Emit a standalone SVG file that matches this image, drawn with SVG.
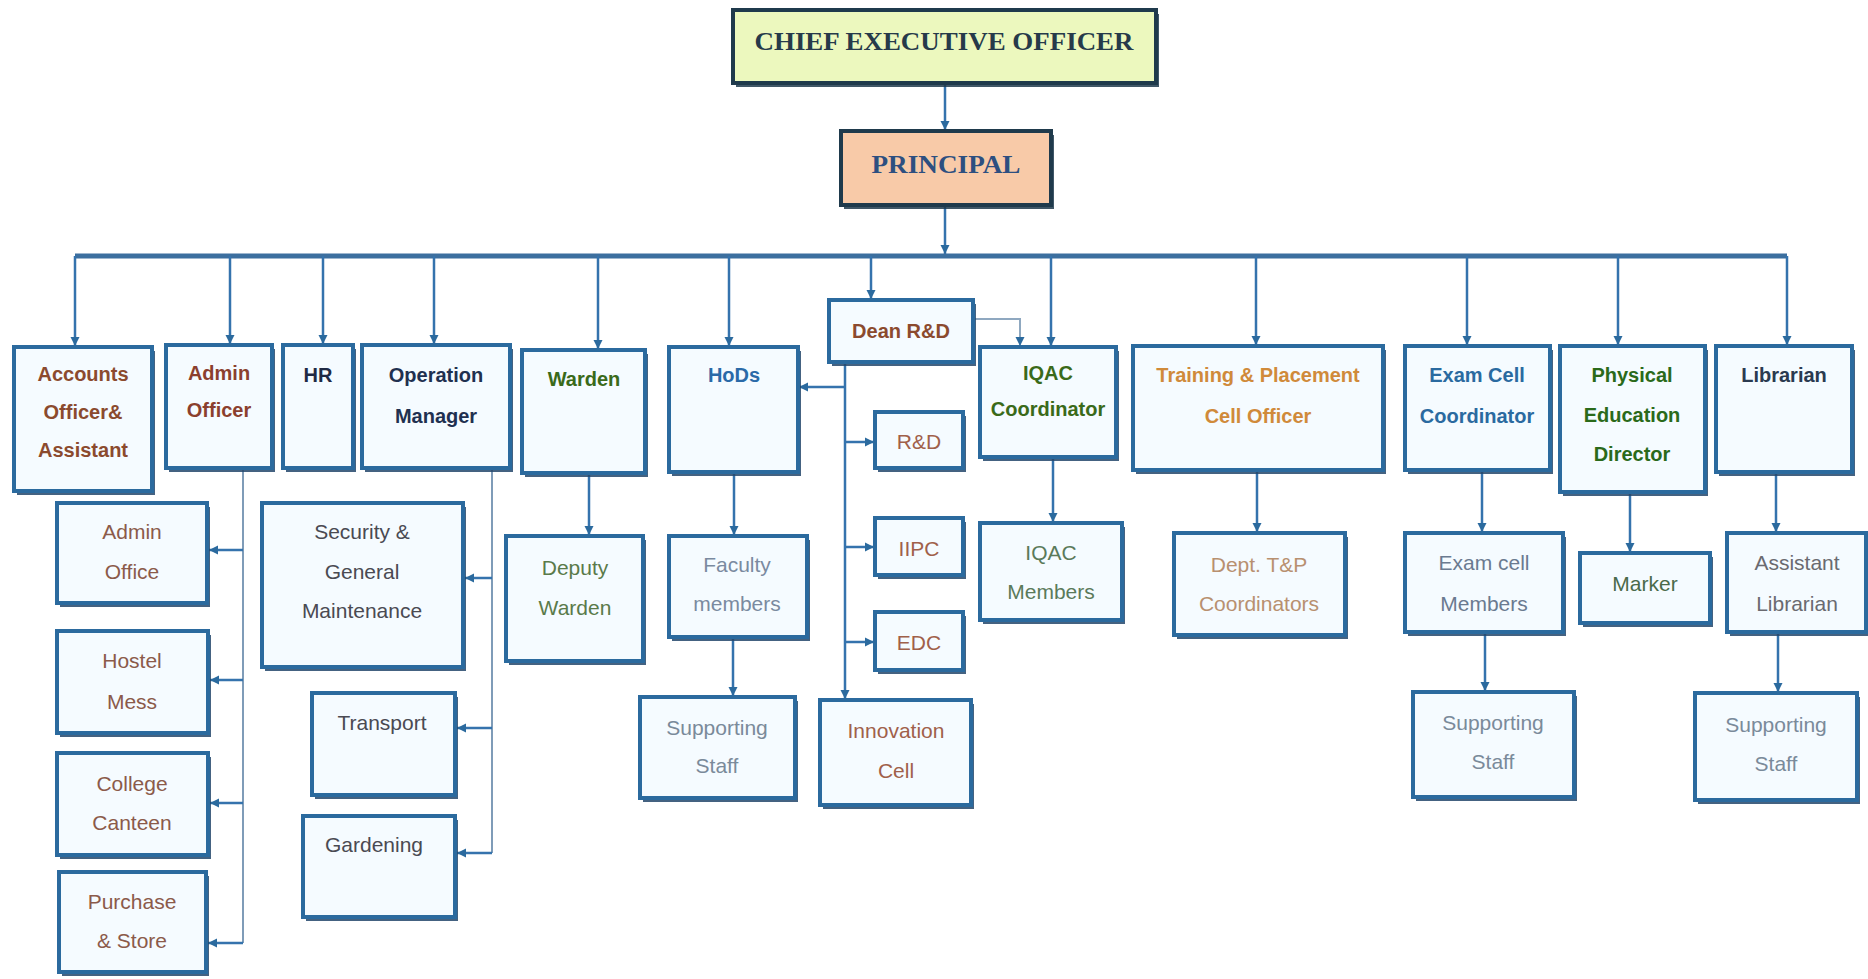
<svg xmlns="http://www.w3.org/2000/svg" width="1868" height="979" viewBox="0 0 1868 979">
<style>
.sh{fill:#23476b;opacity:.85}
.bx{fill:#f5fbff;stroke:#2b6a9e;stroke-width:4}
.t{font-family:"Liberation Sans",Arial,sans-serif;font-size:20px;font-weight:bold;text-anchor:middle}
.s{font-family:"Liberation Sans",Arial,sans-serif;font-size:21px;text-anchor:middle}
.c{fill:none;stroke:#3573ad;stroke-width:2.5}
.g{fill:none;stroke:#7f9cb8;stroke-width:2}
</style>
<defs>
<marker id="a" markerUnits="userSpaceOnUse" markerWidth="10" markerHeight="10" refX="9" refY="5" orient="auto"><path d="M0,0.5 L9,5 L0,9.5 z" fill="#2b6a9e"/></marker>
</defs>
<rect width="1868" height="979" fill="#ffffff"/>
<g id="connectors">
<path class="c" d="M945,83 V130" marker-end="url(#a)"/>
<path class="c" d="M945,205 V254" marker-end="url(#a)"/>
<path d="M75,256 H1787" fill="none" stroke="#3c6f9f" stroke-width="5"/>
<path class="c" d="M75,256 V346" marker-end="url(#a)"/>
<path class="c" d="M230,256 V344" marker-end="url(#a)"/>
<path class="c" d="M323,256 V344" marker-end="url(#a)"/>
<path class="c" d="M434,256 V344" marker-end="url(#a)"/>
<path class="c" d="M598,256 V349" marker-end="url(#a)"/>
<path class="c" d="M729,256 V346" marker-end="url(#a)"/>
<path class="c" d="M871,256 V299" marker-end="url(#a)"/>
<path class="c" d="M1051,256 V346" marker-end="url(#a)"/>
<path class="c" d="M1256,256 V345" marker-end="url(#a)"/>
<path class="c" d="M1467,256 V345" marker-end="url(#a)"/>
<path class="c" d="M1618,256 V345" marker-end="url(#a)"/>
<path class="c" d="M1787,256 V345" marker-end="url(#a)"/>
<path d="M975,319 H1020 V346" fill="none" stroke="#8fa8c0" stroke-width="2" marker-end="url(#a)"/>
<path class="c" d="M845,362 V699" marker-end="url(#a)"/>
<path class="c" d="M845,387 H799" marker-end="url(#a)"/>
<path class="c" d="M845,442 H874" marker-end="url(#a)"/>
<path class="c" d="M845,547 H874" marker-end="url(#a)"/>
<path class="c" d="M845,642 H874" marker-end="url(#a)"/>
<path class="c" d="M589,474 V535" marker-end="url(#a)"/>
<path class="c" d="M734,473 V535" marker-end="url(#a)"/>
<path class="c" d="M733,638 V696" marker-end="url(#a)"/>
<path class="c" d="M1053,458 V522" marker-end="url(#a)"/>
<path class="c" d="M1257,471 V532" marker-end="url(#a)"/>
<path class="c" d="M1482,471 V532" marker-end="url(#a)"/>
<path class="c" d="M1485,633 V691" marker-end="url(#a)"/>
<path class="c" d="M1630,493 V552" marker-end="url(#a)"/>
<path class="c" d="M1776,473 V532" marker-end="url(#a)"/>
<path class="c" d="M1778,633 V692" marker-end="url(#a)"/>
<path class="g" d="M243,470 V943"/>
<path class="c" d="M243,550 H209" marker-end="url(#a)"/>
<path class="c" d="M243,680 H210" marker-end="url(#a)"/>
<path class="c" d="M243,803 H210" marker-end="url(#a)"/>
<path class="c" d="M243,943 H208" marker-end="url(#a)"/>
<path class="g" d="M492,470 V853"/>
<path class="c" d="M492,578 H465" marker-end="url(#a)"/>
<path class="c" d="M492,728 H457" marker-end="url(#a)"/>
<path class="c" d="M492,853 H457" marker-end="url(#a)"/>
</g>
<g id="ceo">
<rect x="736" y="14" width="423" height="73" fill="#1f3a4c" opacity=".85"/>
<rect x="733" y="10" width="423" height="73" fill="#ecf8be" stroke="#1f3a4c" stroke-width="4"/>
<text x="944" y="50" font-family="Liberation Serif,Times New Roman,serif" font-size="26" font-weight="bold" fill="#263a4a" text-anchor="middle" textLength="379" lengthAdjust="spacingAndGlyphs">CHIEF EXECUTIVE OFFICER</text>
</g>
<g id="principal">
<rect x="844" y="135" width="210" height="74" fill="#1f3a4c" opacity=".85"/>
<rect x="841" y="131" width="210" height="74" fill="#f8caa8" stroke="#1f3a4c" stroke-width="4"/>
<text x="946" y="173" font-family="Liberation Serif,Times New Roman,serif" font-size="26" font-weight="bold" fill="#2d4f80" text-anchor="middle" textLength="149" lengthAdjust="spacingAndGlyphs">PRINCIPAL</text>
</g>
<g id="accounts"><rect class="sh" x="17" y="351" width="138" height="144"/><rect class="bx" x="14" y="347" width="138" height="144"/>
<text class="t" fill="#8b4a2e"><tspan x="83" y="381">Accounts</tspan><tspan x="83" y="419">Officer&amp;</tspan><tspan x="83" y="457">Assistant</tspan></text></g>
<g id="admin-officer"><rect class="sh" x="169" y="349" width="106" height="123"/><rect class="bx" x="166" y="345" width="106" height="123"/>
<text class="t" fill="#8b3f2e"><tspan x="219" y="380">Admin</tspan><tspan x="219" y="417">Officer</tspan></text></g>
<g id="hr"><rect class="sh" x="286" y="349" width="70" height="123"/><rect class="bx" x="283" y="345" width="70" height="123"/>
<text class="t" fill="#1f2a44"><tspan x="318" y="382">HR</tspan></text></g>
<g id="operation-manager"><rect class="sh" x="365" y="349" width="148" height="123"/><rect class="bx" x="362" y="345" width="148" height="123"/>
<text class="t" fill="#1f3050"><tspan x="436" y="382">Operation</tspan><tspan x="436" y="423">Manager</tspan></text></g>
<g id="warden"><rect class="sh" x="525" y="354" width="123" height="123"/><rect class="bx" x="522" y="350" width="123" height="123"/>
<text class="t" fill="#3a6a1a"><tspan x="584" y="386">Warden</tspan></text></g>
<g id="hods"><rect class="sh" x="672" y="351" width="129" height="125"/><rect class="bx" x="669" y="347" width="129" height="125"/>
<text class="t" fill="#2a6aa8"><tspan x="734" y="382">HoDs</tspan></text></g>
<g id="dean"><rect class="sh" x="832" y="304" width="144" height="62"/><rect class="bx" x="829" y="300" width="144" height="62"/>
<text class="t" fill="#8b4a2e"><tspan x="901" y="338">Dean R&amp;D</tspan></text></g>
<g id="iqac"><rect class="sh" x="983" y="351" width="136" height="110"/><rect class="bx" x="980" y="347" width="136" height="110"/>
<text class="t" fill="#3a6a1a"><tspan x="1048" y="380">IQAC</tspan><tspan x="1048" y="416">Coordinator</tspan></text></g>
<g id="tp"><rect class="sh" x="1136" y="350" width="250" height="124"/><rect class="bx" x="1133" y="346" width="250" height="124"/>
<text class="t" fill="#d08a3a"><tspan x="1258" y="382">Training &amp; Placement</tspan><tspan x="1258" y="423">Cell Officer</tspan></text></g>
<g id="exam"><rect class="sh" x="1408" y="350" width="145" height="124"/><rect class="bx" x="1405" y="346" width="145" height="124"/>
<text class="t" fill="#2a6aa0"><tspan x="1477" y="382">Exam Cell</tspan><tspan x="1477" y="423">Coordinator</tspan></text></g>
<g id="ped"><rect class="sh" x="1563" y="350" width="145" height="146"/><rect class="bx" x="1560" y="346" width="145" height="146"/>
<text class="t" fill="#2a6a1a"><tspan x="1632" y="382">Physical</tspan><tspan x="1632" y="422">Education</tspan><tspan x="1632" y="461">Director</tspan></text></g>
<g id="librarian"><rect class="sh" x="1719" y="350" width="136" height="126"/><rect class="bx" x="1716" y="346" width="136" height="126"/>
<text class="t" fill="#2a3a50"><tspan x="1784" y="382">Librarian</tspan></text></g>
<g id="admin-office"><rect class="sh" x="60" y="507" width="150" height="100"/><rect class="bx" x="57" y="503" width="150" height="100"/>
<text class="s" fill="#8b5a4a"><tspan x="132" y="539">Admin</tspan><tspan x="132" y="579">Office</tspan></text></g>
<g id="hostel"><rect class="sh" x="60" y="635" width="151" height="102"/><rect class="bx" x="57" y="631" width="151" height="102"/>
<text class="s" fill="#8b5a4a"><tspan x="132" y="668">Hostel</tspan><tspan x="132" y="709">Mess</tspan></text></g>
<g id="canteen"><rect class="sh" x="60" y="757" width="151" height="102"/><rect class="bx" x="57" y="753" width="151" height="102"/>
<text class="s" fill="#8b5a4a"><tspan x="132" y="791">College</tspan><tspan x="132" y="830">Canteen</tspan></text></g>
<g id="purchase"><rect class="sh" x="62" y="876" width="147" height="100"/><rect class="bx" x="59" y="872" width="147" height="100"/>
<text class="s" fill="#8b5a4a"><tspan x="132" y="909">Purchase</tspan><tspan x="132" y="948">&amp; Store</tspan></text></g>
<g id="security"><rect class="sh" x="265" y="507" width="201" height="164"/><rect class="bx" x="262" y="503" width="201" height="164"/>
<text class="s" fill="#4a4a52"><tspan x="362" y="539">Security &amp;</tspan><tspan x="362" y="579">General</tspan><tspan x="362" y="618">Maintenance</tspan></text></g>
<g id="transport"><rect class="sh" x="315" y="697" width="143" height="102"/><rect class="bx" x="312" y="693" width="143" height="102"/>
<text class="s" fill="#4a4a52"><tspan x="382" y="730">Transport</tspan></text></g>
<g id="gardening"><rect class="sh" x="306" y="820" width="152" height="101"/><rect class="bx" x="303" y="816" width="152" height="101"/>
<text class="s" fill="#4a4a52"><tspan x="374" y="852">Gardening</tspan></text></g>
<g id="deputy-warden"><rect class="sh" x="509" y="540" width="137" height="125"/><rect class="bx" x="506" y="536" width="137" height="125"/>
<text class="s" fill="#5a7a4a"><tspan x="575" y="575">Deputy</tspan><tspan x="575" y="615">Warden</tspan></text></g>
<g id="faculty"><rect class="sh" x="672" y="540" width="138" height="101"/><rect class="bx" x="669" y="536" width="138" height="101"/>
<text class="s" fill="#7a8aa0"><tspan x="737" y="572">Faculty</tspan><tspan x="737" y="611">members</tspan></text></g>
<g id="hod-support"><rect class="sh" x="643" y="701" width="155" height="101"/><rect class="bx" x="640" y="697" width="155" height="101"/>
<text class="s" fill="#7a8a9a"><tspan x="717" y="735">Supporting</tspan><tspan x="717" y="773">Staff</tspan></text></g>
<g id="rnd"><rect class="sh" x="878" y="416" width="88" height="56"/><rect class="bx" x="875" y="412" width="88" height="56"/>
<text class="s" fill="#a0604a"><tspan x="919" y="449">R&amp;D</tspan></text></g>
<g id="iipc"><rect class="sh" x="878" y="522" width="88" height="57"/><rect class="bx" x="875" y="518" width="88" height="57"/>
<text class="s" fill="#a0604a"><tspan x="919" y="556">IIPC</tspan></text></g>
<g id="edc"><rect class="sh" x="878" y="616" width="88" height="58"/><rect class="bx" x="875" y="612" width="88" height="58"/>
<text class="s" fill="#a0604a"><tspan x="919" y="650">EDC</tspan></text></g>
<g id="innovation"><rect class="sh" x="823" y="704" width="151" height="105"/><rect class="bx" x="820" y="700" width="151" height="105"/>
<text class="s" fill="#a0604a"><tspan x="896" y="738">Innovation</tspan><tspan x="896" y="778">Cell</tspan></text></g>
<g id="iqac-members"><rect class="sh" x="983" y="527" width="142" height="97"/><rect class="bx" x="980" y="523" width="142" height="97"/>
<text class="s" fill="#5a7a5a"><tspan x="1051" y="560">IQAC</tspan><tspan x="1051" y="599">Members</tspan></text></g>
<g id="dept-tp"><rect class="sh" x="1177" y="537" width="171" height="102"/><rect class="bx" x="1174" y="533" width="171" height="102"/>
<text class="s" fill="#b89070"><tspan x="1259" y="572">Dept. T&amp;P</tspan><tspan x="1259" y="611">Coordinators</tspan></text></g>
<g id="exam-members"><rect class="sh" x="1408" y="537" width="158" height="99"/><rect class="bx" x="1405" y="533" width="158" height="99"/>
<text class="s" fill="#6a7a90"><tspan x="1484" y="570">Exam cell</tspan><tspan x="1484" y="611">Members</tspan></text></g>
<g id="exam-support"><rect class="sh" x="1416" y="696" width="161" height="105"/><rect class="bx" x="1413" y="692" width="161" height="105"/>
<text class="s" fill="#7a8a9a"><tspan x="1493" y="730">Supporting</tspan><tspan x="1493" y="769">Staff</tspan></text></g>
<g id="marker"><rect class="sh" x="1583" y="557" width="130" height="70"/><rect class="bx" x="1580" y="553" width="130" height="70"/>
<text class="s" fill="#4a6a4a"><tspan x="1645" y="591">Marker</tspan></text></g>
<g id="asst-librarian"><rect class="sh" x="1730" y="537" width="139" height="99"/><rect class="bx" x="1727" y="533" width="139" height="99"/>
<text class="s" fill="#6a6a70"><tspan x="1797" y="570">Assistant</tspan><tspan x="1797" y="611">Librarian</tspan></text></g>
<g id="lib-support"><rect class="sh" x="1698" y="697" width="162" height="107"/><rect class="bx" x="1695" y="693" width="162" height="107"/>
<text class="s" fill="#7a8a9a"><tspan x="1776" y="732">Supporting</tspan><tspan x="1776" y="771">Staff</tspan></text></g>
</svg>
